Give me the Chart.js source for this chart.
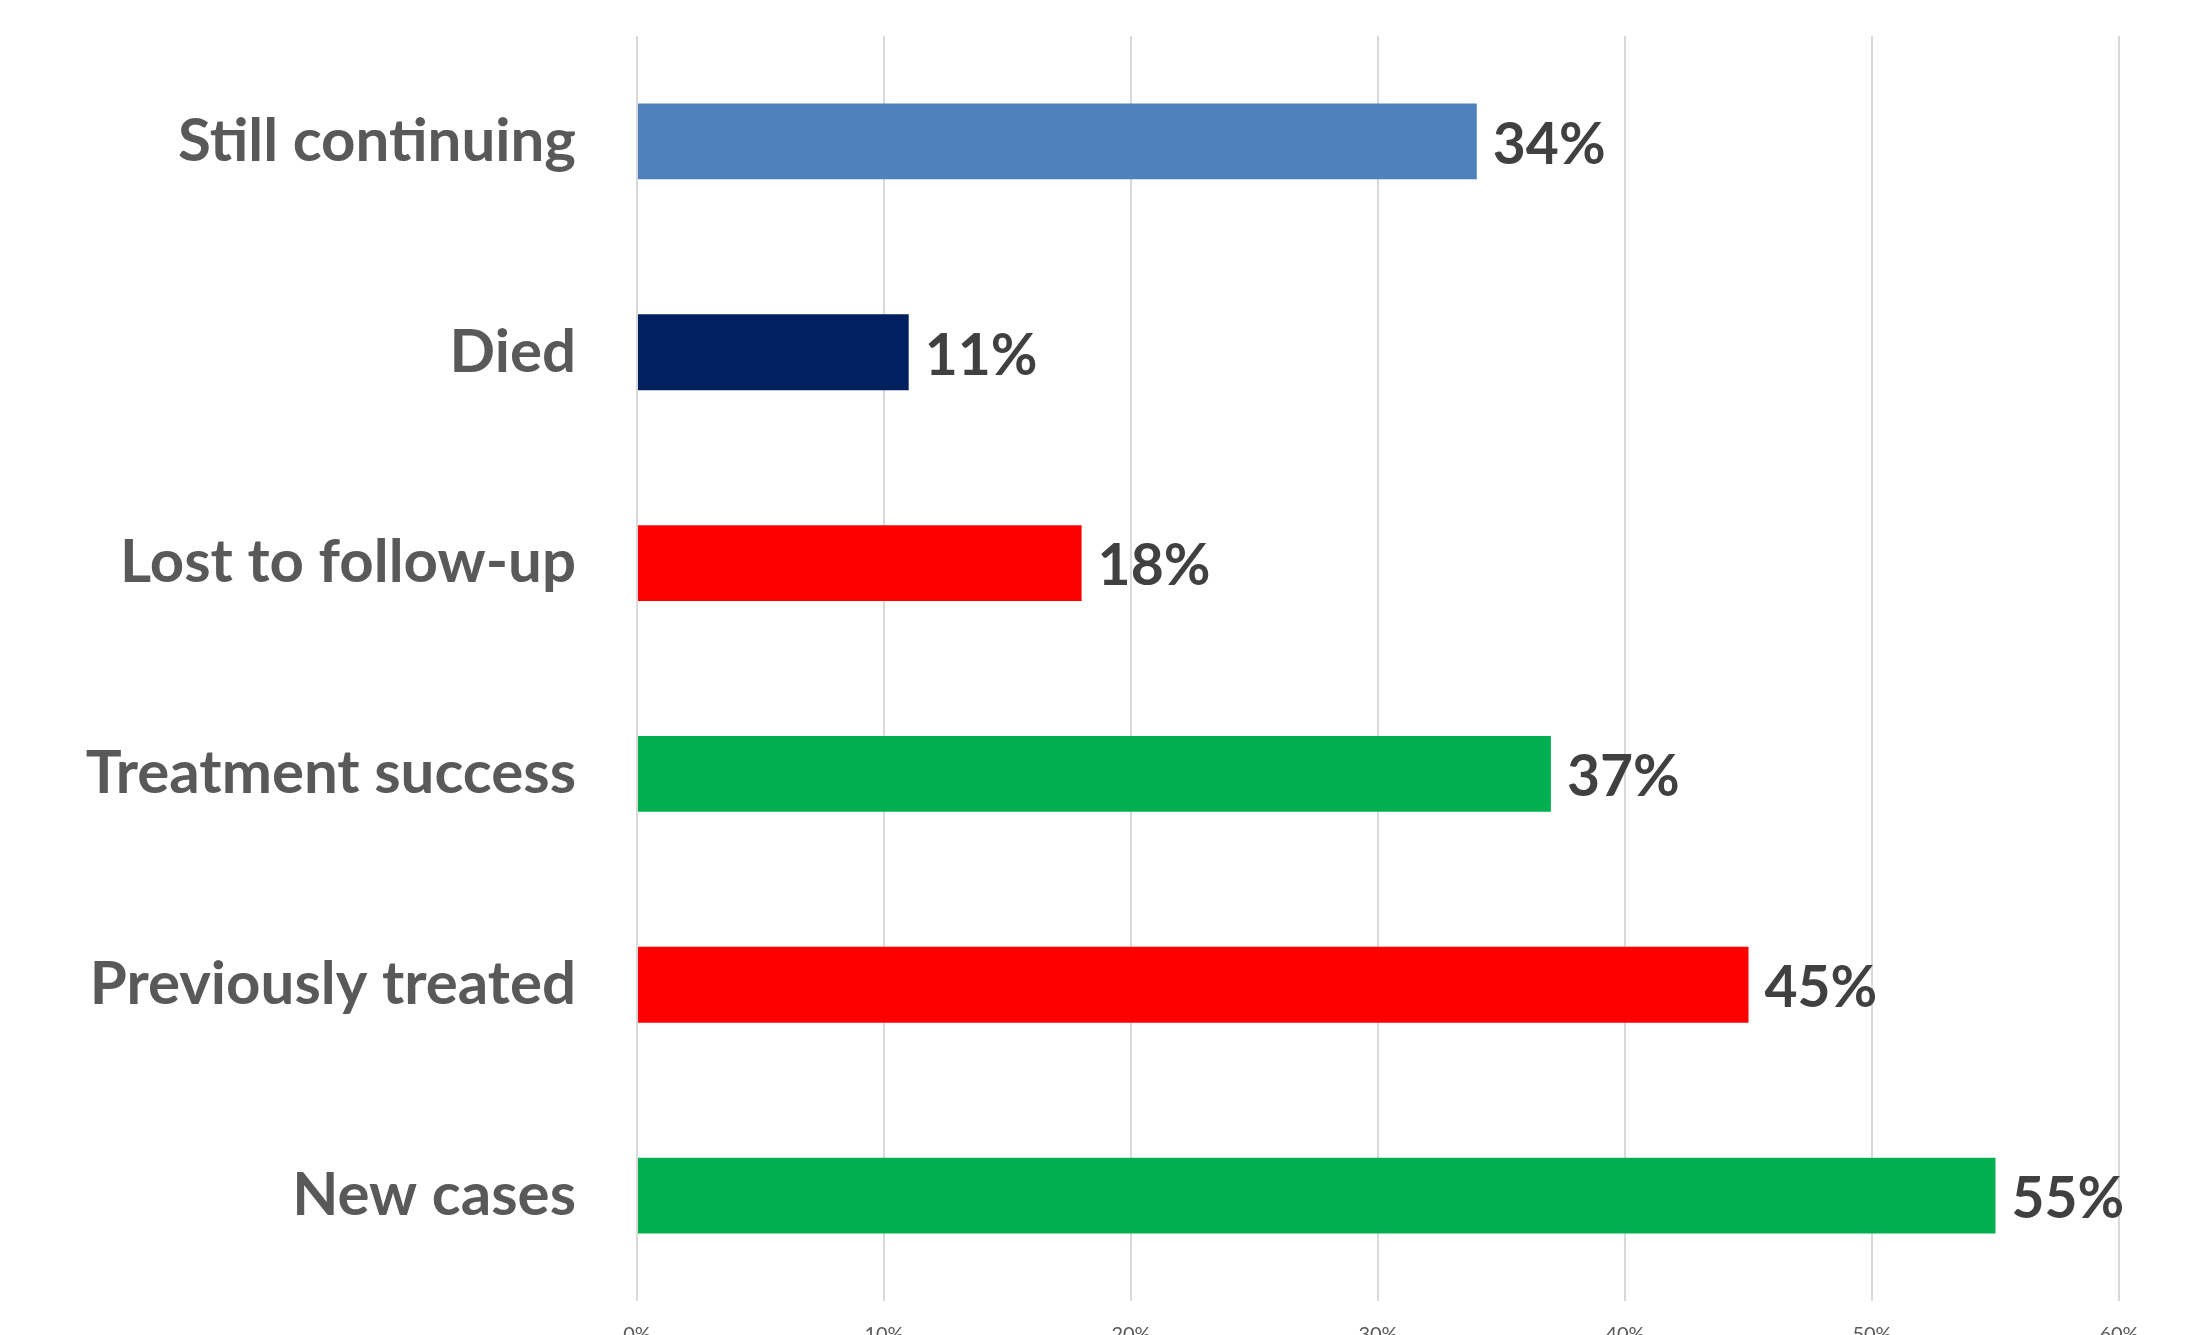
<!DOCTYPE html>
<html>
<head>
<meta charset="utf-8">
<script src="https://cdn.jsdelivr.net/npm/chart.js@4.4.1/dist/chart.umd.min.js"></script>
<style>
    html, body { margin: 0; padding: 0; background: #fff; }
    #wrap { width: 2186px; height: 1335px; }
</style>
</head>
<body>
<div id="wrap"><canvas id="grafico"></canvas></div>
<script>
const categorias = ['Still continuing', 'Died', 'Lost to follow-up', 'Treatment success', 'Previously treated', 'New cases'];
const valores = [34, 11, 18, 37, 45, 55];
const cores = ['#4F81BD', '#002060', '#FF0000', '#00B050', '#FF0000', '#00B050'];
const ticksX = [0, 10, 20, 30, 40, 50, 60];

// rotulos de valor no fim de cada barra
const rotulosPlugin = {
    id: 'rotulos',
    afterDatasetsDraw(chart) {
        const ctx = chart.ctx;
        const meta = chart.getDatasetMeta(0);
        ctx.save();
        ctx.font = 'bold 57px Lato';
        ctx.fillStyle = '#404040';
        ctx.textAlign = 'left';
        ctx.textBaseline = 'middle';
        meta.data.forEach((bar, i) => {
            ctx.fillText(valores[i] + '%', bar.x + 16, bar.y + 4);
        });
        ctx.restore();
    }
};

function renderGrafico() {
    const ctx = document.getElementById('grafico');

    new Chart(ctx, {
        type: 'bar',
        data: {
            labels: categorias,
            datasets: [{
                data: valores,
                backgroundColor: cores,
                categoryPercentage: 1,
                barPercentage: 0.36
            }]
        },
        options: {
            indexAxis: 'y',
            responsive: true,
            maintainAspectRatio: false,
            animation: false,
            layout: { padding: { top: 36, right: 67, left: 0, bottom: 0 } },
            plugins: {
                legend: { display: false },
                tooltip: { enabled: false }
            },
            scales: {
                x: {
                    min: 0,
                    max: 60,
                    afterBuildTicks: scale => {
                        scale.ticks = ticksX.map(v => ({ value: v }));
                    },
                    afterFit: scale => {
                        scale.height = 34;
                        scale.paddingLeft = 0;
                        scale.paddingRight = 0;
                    },
                    border: { display: false },
                    grid: { color: '#d9d9d9', lineWidth: 2, drawTicks: false },
                    ticks: {
                        padding: 22,
                        color: '#595959',
                        font: { family: 'Lato', size: 20 },
                        callback: value => value + '%'
                    }
                },
                y: {
                    afterFit: scale => {
                        scale.width = 637;
                        scale.paddingTop = 0;
                        scale.paddingBottom = 0;
                    },
                    border: { display: false },
                    grid: { display: false, drawTicks: false },
                    ticks: {
                        padding: 61,
                        color: '#595959',
                        font: { family: 'Lato', size: 60, weight: 'bold' }
                    }
                }
            }
        },
        plugins: [rotulosPlugin]
    });
}

document.addEventListener('DOMContentLoaded', () => {
    renderGrafico();
});
</script>
</body>
</html>
